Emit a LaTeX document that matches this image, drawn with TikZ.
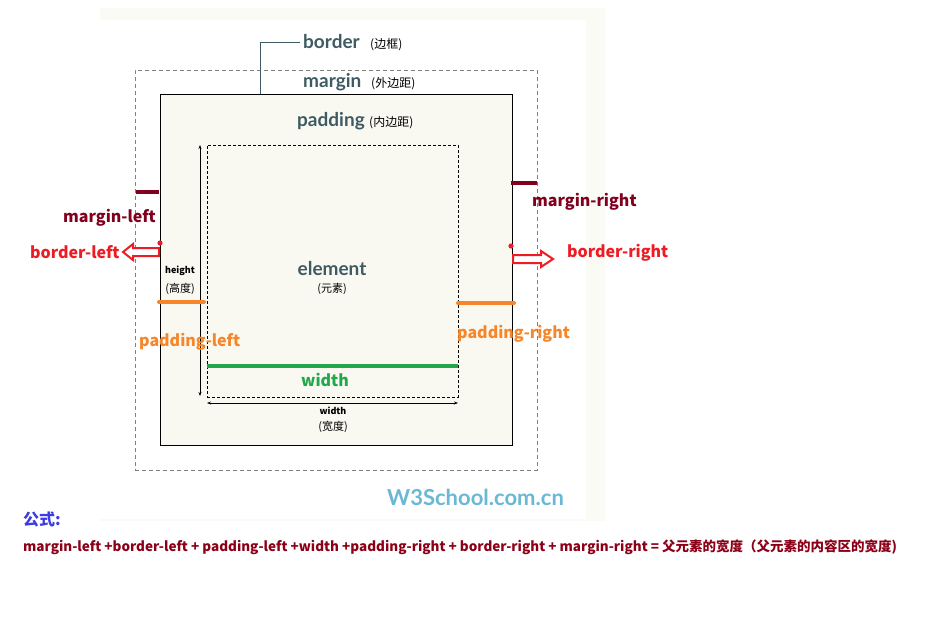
\documentclass[tikz,border=0pt]{standalone}
\usepackage{fontspec}
\usetikzlibrary{arrows.meta}
\setmainfont{Noto Sans CJK SC}
\newfontfamily\lat{Lato}
\definecolor{slate}{HTML}{3E5B63}
\definecolor{mred}{HTML}{80001E}
\definecolor{bred}{HTML}{ED1C24}
\definecolor{porange}{HTML}{F7862A}
\definecolor{wgreen}{HTML}{22A84B}
\definecolor{wblue}{HTML}{6AB8D4}
\definecolor{fblue}{HTML}{3C3CE0}
\definecolor{fred}{HTML}{8B0016}
\definecolor{boxfill}{HTML}{F9F9F2}
\definecolor{band}{HTML}{FBFBF6}
\tikzset{
  lbl/.style={inner sep=0pt, anchor=base west},
  big/.style={lbl, font=\lat\bfseries\fontsize{19}{19}\selectfont, text=slate},
  cn/.style={lbl, font=\fontsize{12}{12}\selectfont, text=black},
  side/.style={lbl, font=\bfseries\fontsize{16}{16}\selectfont},
  small/.style={inner sep=0pt, anchor=base, font=\bfseries\fontsize{9}{9}\selectfont, text=black},
  smallcn/.style={inner sep=0pt, anchor=base, font=\fontsize{11}{11}\selectfont, text=black},
  bar/.style={line width=4pt, line cap=round},
  hollow/.style={draw=bred, line width=2pt, fill=white, line join=miter},
  dim/.style={line width=0.8pt, {Stealth[length=4pt,width=3pt]}-{Stealth[length=4pt,width=3pt]}},
}
\begin{document}
\begin{tikzpicture}[x=1pt,y=-1pt]
\useasboundingbox (0,0) rectangle (952,624);
\fill[band] (100,8) rectangle (605,521);
\fill[white] (100,20) rectangle (586,519);
% boxes
\node[draw=gray, dashed, dash pattern=on 4pt off 3pt, line width=0.8pt, minimum width=402pt, minimum height=400pt, inner sep=0pt] (marginbox) at (336,270) {};
\node[draw=black, fill=boxfill, line width=1pt, minimum width=352pt, minimum height=351pt, inner sep=0pt] (borderbox) at (336,269.5) {};
\node[draw=black, dashed, dash pattern=on 3pt off 2pt, line width=0.8pt, minimum width=251pt, minimum height=252pt, inner sep=0pt] (contentbox) at (332.5,271) {};
% top labels
\node[big] (borderlbl) at (303,48) {border};
\node[cn] (bordercn) at (370,48) {(边框)};
\coordinate (leader) at (260,94);
\draw[slate, line width=1pt] (leader) |- ([xshift=-3pt]borderlbl.west |- 0,42);
\node[big] (marginlbl) at (303,87) {margin};
\node[cn] (margincn) at (371,87) {(外边距)};
\node[big] (paddinglbl) at (297,126) {padding};
\node[cn] (paddingcn) at (369,126) {(内边距)};
% element
\node[inner sep=0pt, anchor=base, font=\lat\bfseries\fontsize{19}{19}\selectfont, text=slate] (elemlbl) at (332,275) {element};
\node[smallcn] (elemcn) at (332,292) {(元素)};
% height
\coordinate (htop) at (200,145);
\coordinate (hbot) at (200,396);
\draw[dim] (htop) -- (hbot);
\node[small] (heightlbl) at (180,273) {height};
\node[smallcn] (heightcn) at (180,292) {(高度)};
% width dim
\coordinate (wl) at (207,403);
\coordinate (wr) at (458,403);
\draw[dim] (wl) -- (wr);
\node[small] (widthsm) at (333,414) {width};
\node[smallcn] (widthcn) at (333,430) {(宽度)};
% bars
\coordinate (ml1) at (136,192); \coordinate (ml2) at (159,192);
\draw[bar, mred, line cap=butt] (ml1) -- (ml2);
\coordinate (mr1) at (511,183); \coordinate (mr2) at (537,183);
\draw[bar, mred, line cap=butt] (mr1) -- (mr2);
\coordinate (pl1) at (159,302); \coordinate (pl2) at (204,302);
\draw[bar, porange] (pl1) -- (pl2);
\coordinate (pr1) at (458,303); \coordinate (pr2) at (514,303);
\draw[bar, porange] (pr1) -- (pr2);
\coordinate (w1) at (207,366); \coordinate (w2) at (458,366);
\draw[bar, wgreen, line cap=butt] (w1) -- (w2);
\node[inner sep=0pt, anchor=base, font=\bfseries\fontsize{16}{16}\selectfont, text=wgreen] (widthlbl) at (325,386) {width};
% side labels
\node[side, text=mred] (mllbl) at (63,222) {margin-left};
\node[side, text=bred] (bllbl) at (30,258) {border-left};
\node[side, text=porange] (pllbl) at (139,346) {padding-left};
\node[side, text=mred] (mrlbl) at (532,206) {margin-right};
\node[side, text=bred] (brlbl) at (567,257) {border-right};
\node[side, text=porange] (prlbl) at (457,338) {padding-right};
% red dots
\fill[bred] (160,243) circle (2.6pt);
\fill[bred] (511,246) circle (2.6pt);
% hollow arrows
\draw[hollow] (123,252) -- (133,244) -- (133,248) -- (159,248) -- (159,256) -- (133,256) -- (133,260) -- cycle;
\draw[hollow] (553,259) -- (541,251) -- (541,255) -- (513,255) -- (513,263) -- (541,263) -- (541,267) -- cycle;
% brand
\node[lbl, font=\lat\bfseries\fontsize{22}{22}\selectfont, text=wblue] (brand) at (387,505) {W3School.com.cn};
% formula
\node[lbl, font=\bfseries\fontsize{16}{16}\selectfont, text=fblue] (gs) at (23,525) {公式:};
\node[lbl, font=\bfseries\fontsize{13.5}{13.5}\selectfont, text=fred] (formula) at (23,551) {margin-left +border-left + padding-left +width +padding-right + border-right + margin-right = 父元素的宽度（父元素的内容区的宽度)};
\end{tikzpicture}
\end{document}
